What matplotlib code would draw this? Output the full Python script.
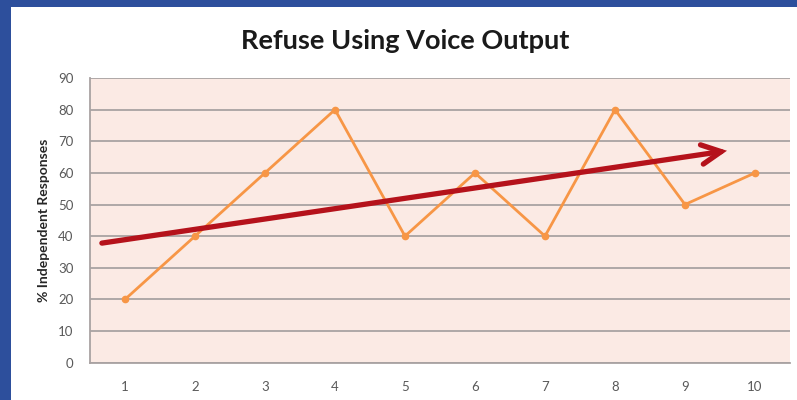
import matplotlib
matplotlib.use("Agg")
import matplotlib.pyplot as plt
from matplotlib.patches import Rectangle

# Session data
sessions = [1, 2, 3, 4, 5, 6, 7, 8, 9, 10]
independent_pct = [20, 40, 60, 80, 40, 60, 40, 80, 50, 60]
y_ticks = [0, 10, 20, 30, 40, 50, 60, 70, 80, 90]

# Hand-drawn trend arrow (start and end in data units)
trend_x = [0.67, 9.6]
trend_y = [37.8, 67.0]

title = "Refuse Using Voice Output"
y_label = "% Independent Responses"

plt.rcParams['font.family'] = ['Lato', 'DejaVu Sans']

fig = plt.figure(figsize=(7.97, 4.0), dpi=100)
fig.patch.set_facecolor("white")

# Slide frame: blue band along the top and left edges
fig.patches.append(Rectangle((0, 0.983), 1, 0.017, transform=fig.transFigure,
                             facecolor="#2D4F9C", edgecolor="none", zorder=0))
fig.patches.append(Rectangle((0, 0), 0.014, 1, transform=fig.transFigure,
                             facecolor="#2D4F9C", edgecolor="none", zorder=0))

ax = fig.add_axes([0.1129, 0.0933, 0.8783, 0.7117])
ax.set_facecolor("#FBEAE4")

ax.plot(sessions, independent_pct, color="#F79646", lw=2.0, marker="o",
        markersize=4.5, zorder=3)

ax.annotate("", xy=(trend_x[1], trend_y[1]), xytext=(trend_x[0], trend_y[0]),
            arrowprops=dict(arrowstyle="->,head_length=1.4,head_width=0.7",
                            color="#B5121B", lw=3.8, shrinkA=0, shrinkB=0,
                            capstyle="round", joinstyle="miter"),
            zorder=4)

ax.set_xlim(0.5, 10.5)
ax.set_ylim(0, 90)
ax.set_xticks(sessions)
ax.set_yticks(y_ticks)
ax.grid(axis="y", color="#A9A2A2", lw=1.3, zorder=1)
ax.set_axisbelow(True)

for side in ("top", "right"):
    ax.spines[side].set_visible(False)
for side in ("left", "bottom"):
    ax.spines[side].set_color("#A9A2A2")
    ax.spines[side].set_linewidth(1.3)

ax.tick_params(axis="both", length=0, labelsize=9.5, colors="#595959")
ax.tick_params(axis="y", pad=12)
ax.tick_params(axis="x", pad=13)

ax.set_ylabel(y_label, fontsize=10, fontweight="bold", color="#262626", labelpad=6)
fig.text(0.508, 0.898, title, ha="center", va="center", fontsize=19.5,
         fontweight="bold", color="#1A1A1A")

fig.savefig("out.png", dpi=100)
